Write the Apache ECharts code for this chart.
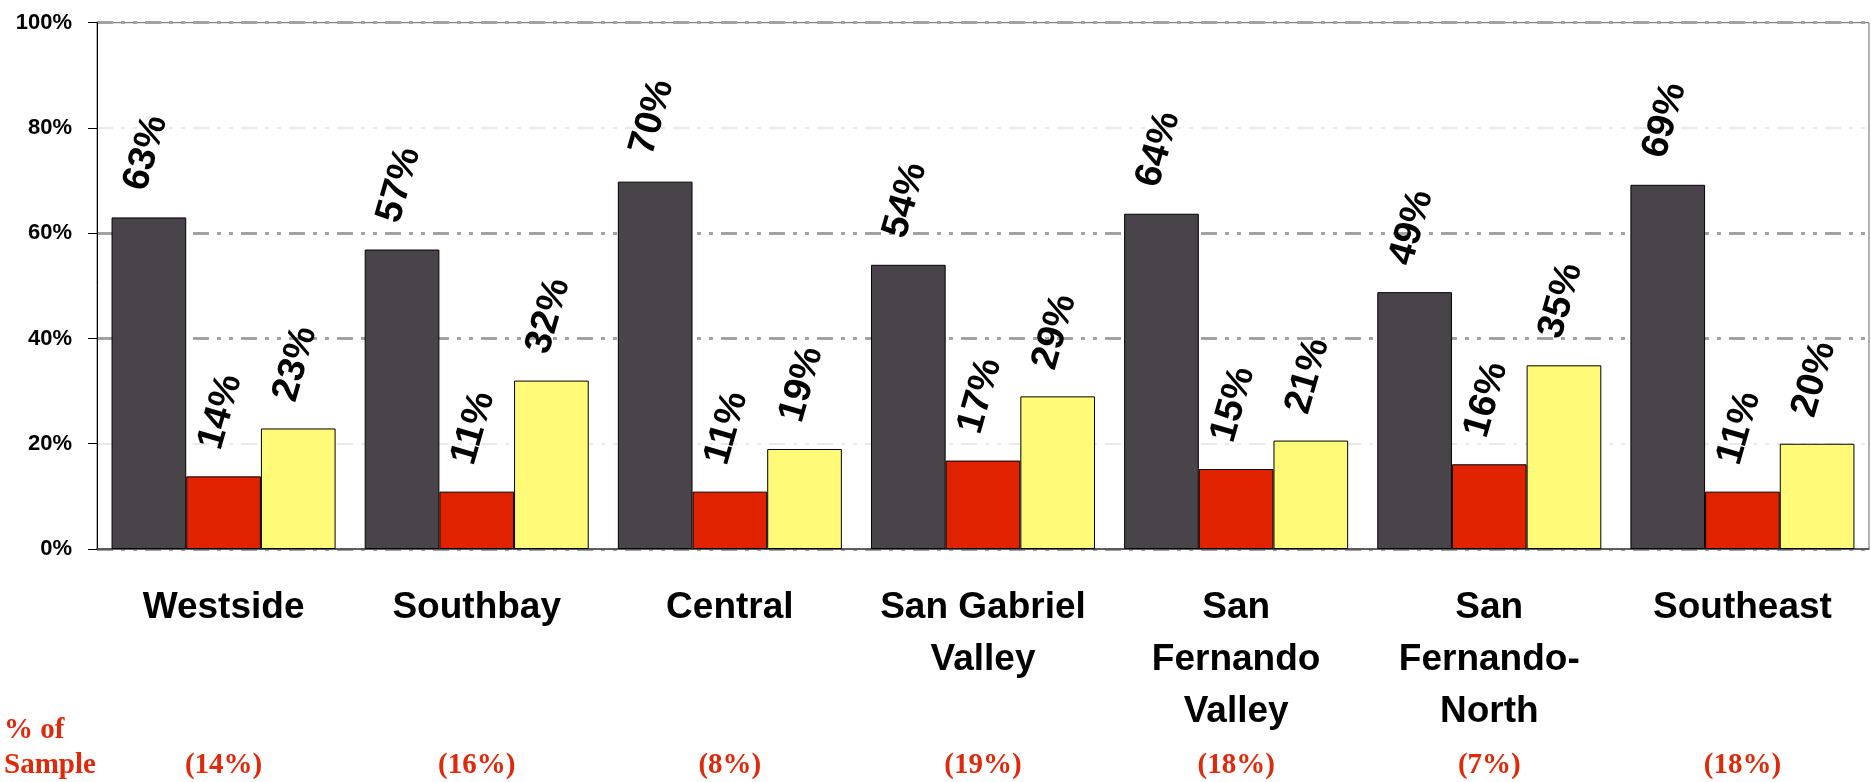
<!DOCTYPE html>
<html>
<head>
<meta charset="utf-8">
<script src="https://cdn.jsdelivr.net/npm/echarts@6/dist/echarts.min.js"></script>
<style>
html,body{margin:0;padding:0;background:#fff;}
#chart{width:1871px;height:782px;}
</style>
</head>
<body>
<div id="chart"></div>
<script>
const categories = ['Westside', 'Southbay', 'Central', 'San Gabriel\nValley', 'San\nFernando\nValley', 'San\nFernando-\nNorth', 'Southeast'];
const sampleShares = ['(14%)', '(16%)', '(8%)', '(19%)', '(18%)', '(7%)', '(18%)'];
const seriesDark = [63.0, 56.9, 69.8, 54.0, 63.7, 48.8, 69.2];
const seriesRed = [13.8, 10.9, 10.9, 16.8, 15.2, 16.1, 10.9];
const seriesYellow = [22.9, 32.0, 19.0, 29.0, 20.6, 34.9, 20.0];
const yTicks = [0, 20, 40, 60, 80, 100];

const dashDot = [16, 8, 4, 8, 4, 8];
const labelStyle = {
  show: true,
  position: ['32%', -28],
  rotate: 74,
  align: 'left',
  verticalAlign: 'middle',
  fontFamily: 'Liberation Sans, Arial, sans-serif',
  fontWeight: 'bold',
  fontSize: 38,
  color: '#000',
  formatter: p => Math.round(p.value) + '%'
};
function barSeries(data, color) {
  return {
    type: 'bar',
    data: data,
    barGap: '0%',
    barCategoryGap: '11.5%',
    itemStyle: { color: color, borderColor: '#000', borderWidth: 1 },
    label: labelStyle,
    animation: false
  };
}

const chart = echarts.init(document.getElementById('chart'), null, { renderer: 'canvas' });
chart.setOption({
  animation: false,
  backgroundColor: '#fff',
  title: {
    text: '% of\nSample',
    left: 4,
    top: 713,
    padding: 0,
    textStyle: {
      fontFamily: 'Liberation Serif, Times New Roman, serif',
      fontWeight: 'bold',
      fontSize: 29,
      lineHeight: 35,
      color: '#e0280a'
    }
  },
  grid: {
    left: 97, right: 2, top: 22.7, bottom: 233,
    show: true, borderColor: '#666', borderWidth: 1,
    outerBoundsMode: 'none', containLabel: false
  },
  xAxis: [
    {
      type: 'category',
      data: categories,
      axisLine: { lineStyle: { color: '#444', width: 1.5 } },
      axisTick: { show: false },
      axisLabel: {
        interval: 0,
        margin: 33,
        fontFamily: 'Liberation Sans, Arial, sans-serif',
        fontWeight: 'bold',
        fontSize: 37,
        lineHeight: 52,
        color: '#000'
      }
    },
    {
      type: 'category',
      data: sampleShares,
      position: 'bottom',
      offset: 190,
      gridIndex: 0,
      axisLine: { show: false },
      axisTick: { show: false },
      axisLabel: {
        interval: 0,
        margin: 9,
        fontFamily: 'Liberation Serif, Times New Roman, serif',
        fontWeight: 'bold',
        fontSize: 29,
        lineHeight: 35,
        color: '#e0280a'
      }
    }
  ],
  yAxis: [
    {
      type: 'value',
      min: yTicks[0],
      max: yTicks[yTicks.length - 1],
      interval: 20,
      axisLine: { show: true, lineStyle: { color: '#000', width: 1 } },
      axisTick: { show: true, length: 9, lineStyle: { color: '#000' } },
      axisLabel: {
        margin: 25,
        formatter: v => v + '%',
        fontFamily: 'Liberation Sans, Arial, sans-serif',
        fontWeight: 'bold',
        fontSize: 22,
        color: '#000',
        verticalAlign: 'middle',
        padding: [0, 0, 10, 0]
      },
      splitLine: {
        show: true,
        lineStyle: {
          color: ['#a2a2a2', 'rgba(0,0,0,0)', '#a2a2a2', '#a2a2a2', 'rgba(0,0,0,0)', '#a2a2a2'],
          width: 3,
          type: dashDot
        }
      }
    },
    {
      type: 'value',
      min: yTicks[0],
      max: yTicks[yTicks.length - 1],
      interval: 20,
      position: 'left',
      axisLine: { show: false },
      axisTick: { show: false },
      axisLabel: { show: false },
      splitLine: {
        show: true,
        lineStyle: {
          color: ['rgba(0,0,0,0)', '#e2e2e2', 'rgba(0,0,0,0)', 'rgba(0,0,0,0)', '#e2e2e2', 'rgba(0,0,0,0)'],
          width: 1.5,
          type: dashDot
        }
      }
    }
  ],
  series: [
    barSeries(seriesDark, '#48444a'),
    barSeries(seriesRed, '#e02200'),
    barSeries(seriesYellow, '#fffa78')
  ]
});
</script>
</body>
</html>
